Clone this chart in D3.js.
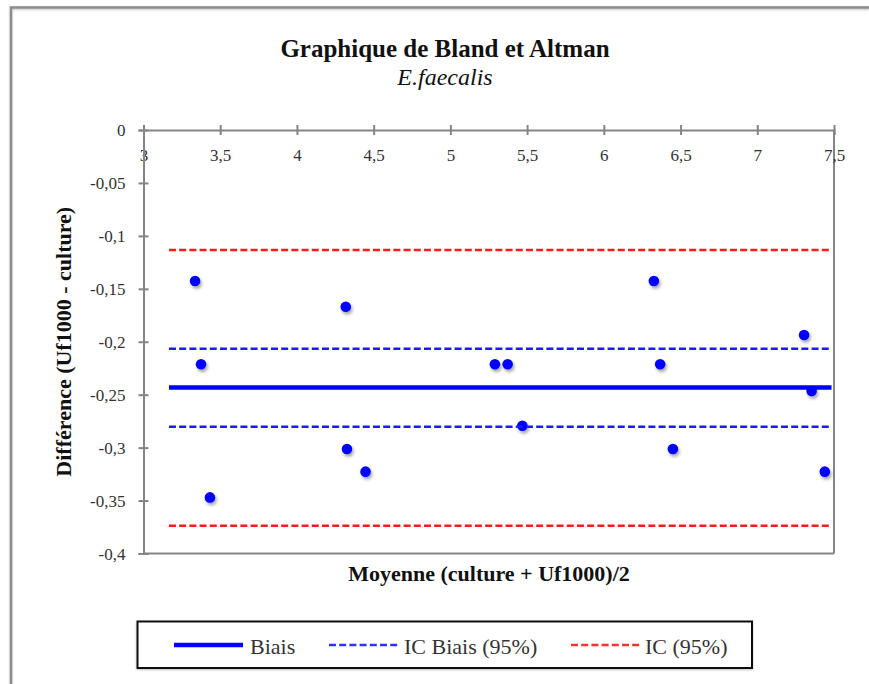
<!DOCTYPE html>
<html>
<head>
<meta charset="utf-8">
<script src="https://cdn.jsdelivr.net/npm/d3@7"></script>
<style>
  html, body { margin: 0; padding: 0; background: #fff; }
  svg { display: block; }
  text { font-family: "Liberation Serif", "Times New Roman", serif; fill: #222; }
</style>
</head>
<body>
<svg id="chart" width="869" height="684"></svg>
<script>
// ---- Data ----
const xTicks = [3, 3.5, 4, 4.5, 5, 5.5, 6, 6.5, 7, 7.5];
const yTicks = [0, -0.05, -0.1, -0.15, -0.2, -0.25, -0.3, -0.35, -0.4];
const moyenne = [3.336, 3.375, 3.433, 4.318, 4.326, 4.447, 5.290, 5.373, 5.469, 6.326, 6.367, 6.450, 7.305, 7.354, 7.440];
const difference = [-0.1426, -0.2213, -0.3470, -0.1669, -0.3013, -0.3227, -0.2213, -0.2213, -0.2793, -0.1426, -0.2213, -0.3013, -0.1936, -0.2465, -0.3227];
const lineRange = [3.166, 7.484];
const biais = -0.2433;
const icBiais = [-0.2065, -0.2802];
const ic = [-0.1133, -0.3737];
const legendLabels = ["Biais", "IC Biais (95%)", "IC (95%)"];

// ---- Layout ----
const svg = d3.select("#chart");
const x = d3.scaleLinear().domain([3, 7.5]).range([143.5, 834]);
const y = d3.scaleLinear().domain([0, -0.4]).range([130, 553.5]);
const fmt = d => String(+d.toFixed(2)).replace(".", ",");

const defs = svg.append("defs");
const sh = defs.append("filter").attr("id", "shadow").attr("x", "-50%").attr("y", "-50%").attr("width", "200%").attr("height", "200%");
sh.append("feDropShadow").attr("dx", 1.5).attr("dy", 2.5).attr("stdDeviation", 1.6).attr("flood-color", "#000").attr("flood-opacity", 0.35);
const sh2 = defs.append("filter").attr("id", "lshadow").attr("x", "-5%").attr("y", "-50%").attr("width", "110%").attr("height", "200%");
sh2.append("feDropShadow").attr("dx", 0).attr("dy", 1).attr("stdDeviation", 0.8).attr("flood-color", "#000").attr("flood-opacity", 0.25);

// outer frame
svg.append("path")
  .attr("d", "M11,684 L11,7.5 L869,7.5")
  .attr("fill", "none").attr("stroke", "#8c8c8c").attr("stroke-width", 2.5)
  .attr("filter", "url(#lshadow)");

// Title
svg.append("text").attr("x", 445).attr("y", 57).attr("text-anchor", "middle")
  .style("font-size", "25px").style("font-weight", "bold").style("fill", "#111")
  .text("Graphique de Bland et Altman");
svg.append("text").attr("x", 445).attr("y", 85).attr("text-anchor", "middle")
  .style("font-size", "24px").style("font-style", "italic").style("fill", "#111")
  .text("E.faecalis");

// plot borders (right & bottom)
const axisColor = "#858585";
svg.append("line").attr("x1", x(7.5)).attr("x2", x(7.5)).attr("y1", y(0)).attr("y2", y(-0.4))
  .attr("stroke", axisColor).attr("stroke-width", 2);
svg.append("line").attr("x1", x(3)).attr("x2", x(7.5)).attr("y1", y(-0.4)).attr("y2", y(-0.4))
  .attr("stroke", axisColor).attr("stroke-width", 2);

// X axis (at y=0, labels below)
const xAxis = svg.append("g").attr("transform", `translate(0,${y(0)})`)
  .call(d3.axisBottom(x).tickValues(xTicks).tickFormat(fmt).tickSizeOuter(0).tickSize(5));
xAxis.select(".domain").attr("stroke", axisColor).attr("stroke-width", 2);
xAxis.selectAll(".tick line").attr("y1", -5).attr("y2", 5).attr("stroke", axisColor).attr("stroke-width", 2);
xAxis.selectAll(".tick text").attr("y", 31).attr("dy", null)
  .style("font-size", "17px").style("font-family", "Liberation Serif").style("fill", "#333");

// Y axis
const yAxis = svg.append("g").attr("transform", `translate(${x(3)},0)`)
  .call(d3.axisLeft(y).tickValues(yTicks).tickFormat(fmt).tickSizeOuter(0).tickSize(5));
yAxis.select(".domain").attr("stroke", axisColor).attr("stroke-width", 2);
yAxis.selectAll(".tick line").attr("x1", -5).attr("x2", 5).attr("stroke", axisColor).attr("stroke-width", 2);
yAxis.selectAll(".tick text").attr("x", -18).attr("dy", "0.35em")
  .style("font-size", "17px").style("font-family", "Liberation Serif").style("fill", "#333");

// Axis titles
svg.append("text").attr("x", 489).attr("y", 581).attr("text-anchor", "middle")
  .style("font-size", "22px").style("font-weight", "bold").style("fill", "#111")
  .text("Moyenne (culture + Uf1000)/2");
svg.append("text").attr("transform", `translate(71,${(y(0) + y(-0.4)) / 2}) rotate(-90)`)
  .attr("text-anchor", "middle")
  .style("font-size", "22px").style("font-weight", "bold").style("fill", "#111")
  .text("Différence (Uf1000 - culture)");

// Points
svg.append("g").selectAll("circle").data(moyenne).join("circle")
  .attr("cx", d => x(d)).attr("cy", (d, i) => y(difference[i])).attr("r", 5.3)
  .attr("fill", "#0000ff").attr("filter", "url(#shadow)");

// Lines
const hline = (val, color, width, dash) => svg.append("line")
  .attr("x1", x(lineRange[0])).attr("x2", x(lineRange[1]))
  .attr("y1", y(val)).attr("y2", y(val))
  .attr("stroke", color).attr("stroke-width", width)
  .attr("stroke-dasharray", dash);
ic.forEach(v => hline(v, "#ff1a1a", 2.5, "7,3.2"));
icBiais.forEach(v => hline(v, "#1a1aff", 2.5, "7,3.2"));
hline(biais, "#0000ff", 4.5, null);

// Legend
const lg = svg.append("g");
lg.append("rect").attr("x", 137.5).attr("y", 621.5).attr("width", 614.5).attr("height", 46.5)
  .attr("fill", "#fff").attr("stroke", "#111").attr("stroke-width", 2).attr("filter", "url(#lshadow)");
const legendItems = [
  { lx: 174, tx: 250, color: "#0000ff", w: 4.5, dash: null },
  { lx: 329, tx: 404, color: "#3030ff", w: 2.5, dash: "7,3.2" },
  { lx: 571, tx: 645, color: "#ff3030", w: 2.5, dash: "7,3.2" }
];
legendItems.forEach((it, i) => {
  lg.append("line").attr("x1", it.lx).attr("x2", it.lx + 69).attr("y1", 645).attr("y2", 645)
    .attr("stroke", it.color).attr("stroke-width", it.w).attr("stroke-dasharray", it.dash);
  lg.append("text").attr("x", it.tx).attr("y", 654)
    .style("font-size", "22px").style("fill", "#333").text(legendLabels[i]);
});
</script>
</body>
</html>
